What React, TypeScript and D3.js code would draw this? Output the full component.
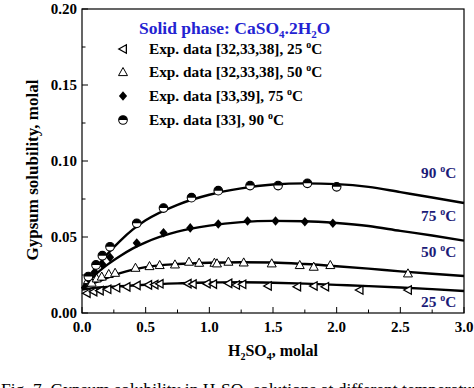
import * as d3 from 'd3'

// fitted model curves (x = H2SO4 molal, y = gypsum solubility molal)
const curveX = [0, 0.05, 0.1, 0.2, 0.3, 0.4, 0.5, 0.75, 1.0, 1.25, 1.5, 1.75, 2.0, 2.25, 2.5, 2.75, 3.0]
const curve25 = [0.0155, 0.016, 0.0165, 0.0171, 0.0176, 0.0181, 0.0186, 0.0195, 0.0201, 0.0202, 0.0199, 0.0193, 0.0185, 0.0177, 0.0168, 0.0157, 0.0145]
const curve50 = [0.0158, 0.018, 0.0199, 0.0232, 0.0262, 0.0285, 0.0302, 0.0322, 0.0331, 0.0334, 0.0332, 0.0322, 0.0308, 0.0292, 0.0274, 0.0258, 0.0243]
const curve75 = [0.016, 0.0205, 0.0248, 0.0318, 0.0375, 0.0425, 0.0465, 0.0535, 0.0575, 0.0598, 0.0606, 0.0604, 0.0592, 0.0572, 0.0540, 0.0510, 0.0476]
const curve90 = [0.0162, 0.0225, 0.0285, 0.0388, 0.0475, 0.0550, 0.0610, 0.0712, 0.0778, 0.0820, 0.0845, 0.0853, 0.0848, 0.0830, 0.0795, 0.0760, 0.0724]

// experimental points
const exp25: [number, number][] = [
  [0.037, 0.013], [0.09, 0.014], [0.14, 0.0147], [0.2, 0.0156], [0.27, 0.0166], [0.35, 0.0172],
  [0.43, 0.0182], [0.52, 0.0185], [0.57, 0.0187], [0.61, 0.0192], [0.83, 0.0193], [0.87, 0.019],
  [0.98, 0.0193], [1.03, 0.019], [1.15, 0.0195], [1.21, 0.0184], [1.26, 0.0189], [1.46, 0.0178],
  [1.69, 0.0173], [1.82, 0.0178], [1.91, 0.0173], [2.18, 0.0151], [2.56, 0.0151],
]
const exp50: [number, number][] = [
  [0.047, 0.0217], [0.076, 0.02], [0.115, 0.0228], [0.155, 0.024], [0.21, 0.0257], [0.26, 0.0265],
  [0.42, 0.0298], [0.53, 0.0309], [0.61, 0.0316], [0.73, 0.032], [0.84, 0.0338], [0.92, 0.0331],
  [1.04, 0.0331], [1.06, 0.0327], [1.15, 0.0338], [1.27, 0.0333], [1.49, 0.0327], [1.71, 0.0316],
  [1.82, 0.0305], [1.95, 0.0316], [2.56, 0.0261],
]
const exp75: [number, number][] = [
  [0.05, 0.0225], [0.1, 0.027], [0.16, 0.032], [0.22, 0.0366], [0.43, 0.046], [0.64, 0.0528],
  [0.85, 0.056], [1.07, 0.0586], [1.3, 0.0605], [1.52, 0.0605], [1.75, 0.06], [1.97, 0.059],
]
const exp90: [number, number][] = [
  [0.05, 0.024], [0.11, 0.0316], [0.16, 0.0377], [0.22, 0.0436], [0.43, 0.059], [0.64, 0.069],
  [0.86, 0.0759], [1.07, 0.0805], [1.32, 0.0838], [1.54, 0.0838], [1.77, 0.0853], [2.0, 0.083],
]

const xTicks = [0, 0.5, 1, 1.5, 2, 2.5, 3]
const yTicks = [0, 0.05, 0.1, 0.15, 0.2]
const legendLabels = ['Exp. data [32,33,38], 25 ', 'Exp. data [32,33,38], 50 ', 'Exp. data [33,39], 75 ', 'Exp. data [33], 90 ']
const tempLabels = ['90 ', '75 ', '50 ', '25 ']

const W = 474
const H = 388
const m = { left: 82, right: 10, top: 9, bottom: 75 }
const font = '"Liberation Serif", "Times New Roman", serif'

const x = d3.scaleLinear().domain([0, 3]).range([m.left, W - m.right])
const y = d3.scaleLinear().domain([0, 0.2]).range([H - m.bottom, m.top])

const line = d3.line<number>()
  .x((_, i) => x(curveX[i]))
  .y(d => y(d))
  .curve(d3.curveMonotoneX)

function LeftTri({ cx, cy }: { cx: number; cy: number }) {
  const s = 4.2
  return <path d={`M${cx - s},${cy} L${cx + s * 0.8},${cy - s} L${cx + s * 0.8},${cy + s} Z`} fill="white" stroke="#000" strokeWidth={1.3} />
}
function UpTri({ cx, cy }: { cx: number; cy: number }) {
  const s = 4.5
  return <path d={`M${cx},${cy - s} L${cx + s},${cy + s * 0.8} L${cx - s},${cy + s * 0.8} Z`} fill="white" stroke="#000" strokeWidth={1} />
}
function Diamond({ cx, cy }: { cx: number; cy: number }) {
  const s = 4.8
  return <path d={`M${cx},${cy - s} L${cx + s * 0.85},${cy} L${cx},${cy + s} L${cx - s * 0.85},${cy} Z`} fill="#000" />
}
function HalfCircle({ cx, cy }: { cx: number; cy: number }) {
  const r = 4.3
  return (
    <g>
      <circle cx={cx} cy={cy} r={r} fill="white" stroke="#000" strokeWidth={1.1} />
      <path d={`M${cx - r},${cy} A${r},${r} 0 0 1 ${cx + r},${cy} Z`} fill="#000" />
    </g>
  )
}

const markers = [LeftTri, UpTri, Diamond, HalfCircle]

export default function App() {
  const x0 = m.left
  const x1 = W - m.right
  const y0 = H - m.bottom
  const y1 = m.top
  const minorX = d3.range(0, 3.001, 0.25)
  const minorY = d3.range(0, 0.2001, 0.025)
  const tempY = [173, 216, 252, 302]
  const legendY = [49, 72, 96, 120]

  return (
    <svg width={W} height={H} style={{ position: 'absolute', left: 0, top: 0, background: 'white' }} fontFamily={font}>
      {/* curves */}
      {[curve25, curve50, curve75, curve90].map((c, i) => (
        <path key={i} d={line(c) || ''} fill="none" stroke="#000" strokeWidth={2.4} />
      ))}

      {/* points */}
      {exp25.map(([a, b], i) => <LeftTri key={'a' + i} cx={x(a)} cy={y(b)} />)}
      {exp50.map(([a, b], i) => <UpTri key={'b' + i} cx={x(a)} cy={y(b)} />)}
      {exp75.map(([a, b], i) => <Diamond key={'c' + i} cx={x(a)} cy={y(b)} />)}
      {exp90.map(([a, b], i) => <HalfCircle key={'d' + i} cx={x(a)} cy={y(b)} />)}

      {/* frame */}
      <rect x={x0} y={y1} width={x1 - x0} height={y0 - y1} fill="none" stroke="#000" strokeWidth={1.2} />

      {/* x ticks */}
      {minorX.map((t, i) => {
        const major = i % 2 === 0
        return <line key={'xt' + i} x1={x(t)} x2={x(t)} y1={y0} y2={y0 - (major ? 6 : 3.5)} stroke="#000" strokeWidth={1} />
      })}
      {xTicks.map(t => (
        <text key={'xl' + t} x={x(t)} y={y0 + 19} textAnchor="middle" fontSize={15} fontWeight="bold">{t.toFixed(1)}</text>
      ))}

      {/* y ticks */}
      {minorY.map((t, i) => {
        const major = i % 2 === 0
        return <line key={'yt' + i} x1={x0} x2={x0 + (major ? 6 : 3.5)} y1={y(t)} y2={y(t)} stroke="#000" strokeWidth={1} />
      })}
      {yTicks.map(t => (
        <text key={'yl' + t} x={x0 - 5} y={y(t) + 5} textAnchor="end" fontSize={15} fontWeight="bold">{t.toFixed(2)}</text>
      ))}

      {/* axis titles */}
      <text x={273} y={356} textAnchor="middle" fontSize={16} fontWeight="bold">
        H<tspan fontSize={10} dy={4}>2</tspan><tspan dy={-4}>SO</tspan><tspan fontSize={10} dy={4}>4</tspan><tspan dy={-4}>, molal</tspan>
      </text>
      <text transform="translate(38,170) rotate(-90)" textAnchor="middle" fontSize={17} fontWeight="bold">Gypsum solubility, molal</text>

      {/* legend */}
      <text x={139} y={34} fontSize={17.5} fontWeight="bold" fill="#2323d2">
        Solid phase: CaSO<tspan fontSize={11} dy={4}>4</tspan><tspan dy={-4}>.2H</tspan><tspan fontSize={11} dy={4}>2</tspan><tspan dy={-4}>O</tspan>
      </text>
      {legendLabels.map((lab, i) => {
        const M = markers[i]
        return (
          <g key={'lg' + i}>
            <M cx={123} cy={legendY[i]} />
            <text x={149} y={legendY[i] + 5} fontSize={15.3} fontWeight="bold">
              {lab}<tspan fontSize={10} dy={-6}>o</tspan><tspan dy={6}>C</tspan>
            </text>
          </g>
        )
      })}

      {/* temperature labels */}
      {tempLabels.map((lab, i) => (
        <text key={'tl' + i} x={421} y={tempY[i] + 5} fontSize={15.3} fontWeight="bold" fill="#1b1b78">
          {lab}<tspan fontSize={10} dy={-6}>o</tspan><tspan dy={6}>C</tspan>
        </text>
      ))}

      {/* caption */}
      <text x={1} y={395} fontSize={17.5}>
        Fig. 7. Gypsum solubility in H<tspan fontSize={11} dy={3}>2</tspan><tspan dy={-3}>SO</tspan><tspan fontSize={11} dy={3}>4</tspan><tspan dy={-3}> solutions at different temperatures</tspan>
      </text>
    </svg>
  )
}
